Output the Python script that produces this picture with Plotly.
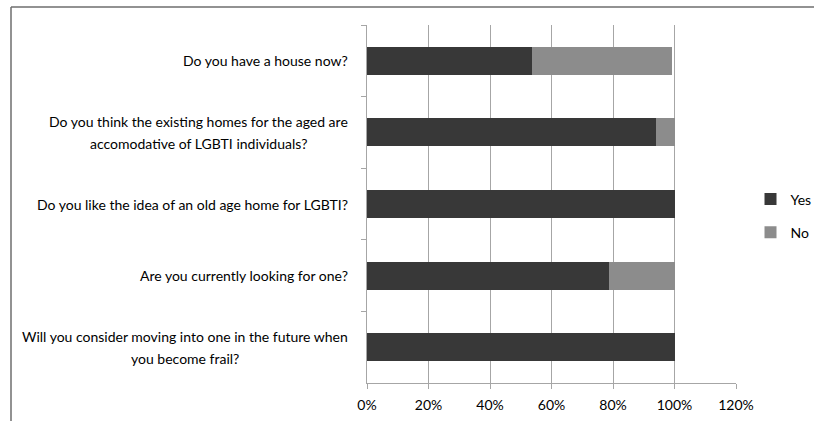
import plotly.graph_objects as go

questions = [
    "Do you have a house now?",
    "Do you think the existing homes for the aged are<br>accomodative of LGBTI individuals?",
    "Do you like the idea of an old age home for LGBTI?",
    "Are you currently looking for one?",
    "Will you consider moving into one in the future when<br>you become frail?",
]
cat_ids = ["q1", "q2", "q3", "q4", "q5"]
yes_vals = [0.537, 0.94, 1.0, 0.787, 1.0]
no_vals = [0.456, 0.06, 0.0, 0.213, 0.0]
x_ticks = [0, 0.2, 0.4, 0.6, 0.8, 1.0, 1.2]
x_labels = ["0%", "20%", "40%", "60%", "80%", "100%", "120%"]

FONT = "Lato, Open Sans, sans-serif"
TXT = "#000"
FS = 14
LINE_GAP = 22
# approximate centre offset (px, from plot left edge) of the first line of wrapped labels
WRAP_CENTER = {"q2": -168.5, "q5": -182}

fig = go.Figure()
fig.add_trace(go.Bar(y=cat_ids, x=yes_vals, orientation="h", name="Yes",
                     marker=dict(color="#383838", line=dict(width=0)),
                     legendgroup="a"))
fig.add_trace(go.Bar(y=cat_ids, x=no_vals, orientation="h", name="No",
                     marker=dict(color="#8c8c8c", line=dict(width=0)),
                     legendgroup="b"))

annotations = []
base = dict(xref="paper", yref="y", x=0, xshift=-17, xanchor="right",
            yanchor="middle", align="center", showarrow=False,
            font=dict(family=FONT, size=FS, color=TXT))
for cid, q in zip(cat_ids, questions):
    lines = q.split("<br>")
    if len(lines) == 1:
        annotations.append(dict(base, y=cid, text=q))
    else:
        l1, l2 = lines
        annotations.append(dict(base, y=cid, yshift=LINE_GAP / 2, text=l1))
        annotations.append(dict(base, y=cid, yshift=-LINE_GAP / 2, text=l2,
                                xanchor="center", xshift=WRAP_CENTER[cid]))

W0, W1 = 367, 736
def px(xp):
    return (xp - W0) / (W1 - W0)
T0, T1 = 25, 383
def py(yp):
    return (T1 - yp) / (T1 - T0)

shapes = [
    dict(type="line", xref="paper", yref="paper", x0=px(11), x1=px(816), y0=py(7), y1=py(7),
         line=dict(color="#6e6e6e", width=1.5)),
    dict(type="line", xref="paper", yref="paper", x0=px(11), x1=px(11), y0=py(7), y1=py(425),
         line=dict(color="#6e6e6e", width=1.5)),
]

fig.update_layout(
    width=814, height=421,
    margin=dict(l=367, r=78, t=25, b=38, autoexpand=False),
    barmode="stack", bargap=0.61,
    plot_bgcolor="white", paper_bgcolor="white",
    font=dict(family=FONT, size=FS, color=TXT),
    xaxis=dict(range=[0, 1.2], tickvals=x_ticks, ticktext=x_labels,
               showgrid=True, gridcolor="#a6a6a6", gridwidth=1,
               showline=True, linecolor="#a6a6a6", linewidth=1,
               ticks="outside", ticklen=5, tickcolor="#a6a6a6",
               ticklabelstandoff=4,
               zeroline=False, fixedrange=True, automargin=False,
               tickfont=dict(family=FONT, size=FS, color=TXT)),
    yaxis=dict(type="category", categoryorder="array", categoryarray=cat_ids,
               autorange="reversed", showticklabels=False, automargin=False,
               tickson="boundaries", ticks="outside", ticklen=5, tickcolor="#a6a6a6",
               showgrid=False, showline=True, linecolor="#a6a6a6", linewidth=1),
    legend=dict(xref="container", yref="container", x=0.922, y=0.487,
                xanchor="left", yanchor="middle",
                traceorder="grouped", tracegroupgap=12,
                font=dict(family=FONT, size=FS, color=TXT),
                itemwidth=30, bgcolor="rgba(0,0,0,0)"),
    annotations=annotations,
    shapes=shapes,
)

fig.write_html("out.html")
